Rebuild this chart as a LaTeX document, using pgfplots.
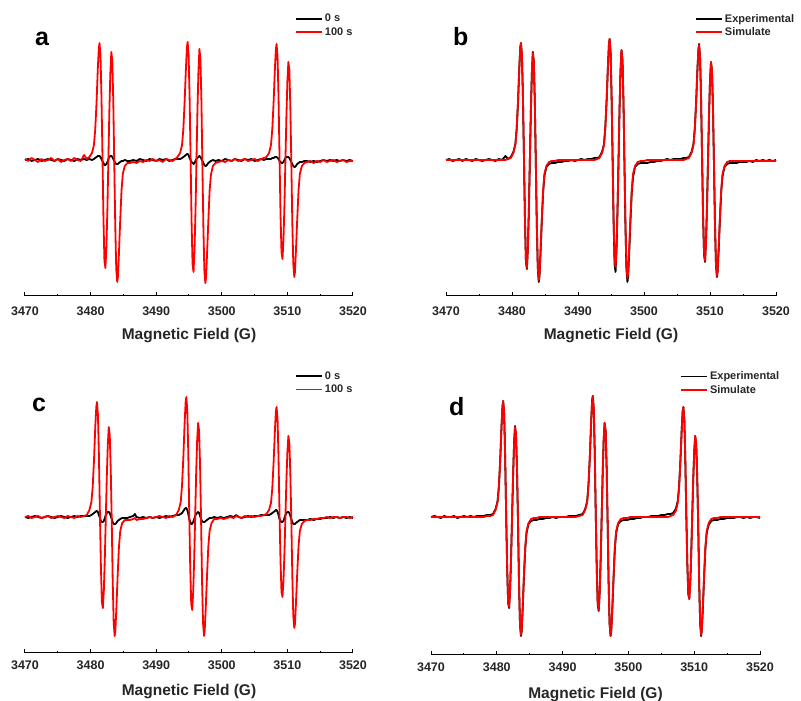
\documentclass[border=0pt]{standalone}
\usepackage{fontspec}
\setmainfont{Liberation Sans}
\usepackage{pgfplots}
\usepackage{pgfplotstable}
\pgfplotsset{compat=1.18}

% panel a: 0 s (k) and 100 s (r)
\pgfplotstableread{
x k r
3470.0 0 1
3470.5 1 -1
3471.0 -1 2
3471.5 0 0
3472.0 1 -2
3472.5 -1 1
3473.0 0 -1
3473.5 1 0
3474.0 0 2
3474.5 -1 -1
3475.0 1 1
3475.5 0 -2
3476.0 -1 0
3476.5 1 1
3477.0 0 -1
3477.5 -1 2
3478.0 1 0
3478.5 0 -1
3479.0 1 5
3479.4 0 1
3479.81 1 3
3480.21 0 7
3480.51 1 15
3480.71 2 31
3480.91 3 58
3481.11 4 93
3481.26 4 112
3481.36 4 117
3481.51 3 104
3481.66 1 62
3481.81 -1 4
3481.96 -3 -59
3482.11 -5 -101
3482.26 -5 -108
3482.41 -4 -87
3482.56 -2 -49
3482.71 1 0
3482.86 3 49
3483.01 4 87
3483.16 4 108
3483.31 3 99
3483.46 1 58
3483.61 -1 -4
3483.76 -3 -66
3483.91 -4 -109
3484.06 -4 -122
3484.16 -4 -117
3484.31 -3 -95
3484.51 -2 -61
3484.71 -1 -31
3484.91 -1 -14
3485.21 0 -6
3485.61 -1 -3
3486.0 -1 -3
3486.5 0 -2
3487.0 -1 -3
3487.5 1 -1
3488.0 0 -2
3488.5 -1 0
3489.0 1 -1
3489.5 0 1
3490.0 -1 -1
3490.5 1 0
3491.0 0 -2
3491.5 1 1
3492.0 -1 0
3492.5 0 -1
3492.9 1 1
3493.24 1 3
3493.64 1 7
3493.94 2 15
3494.14 3 31
3494.34 4 59
3494.54 5 93
3494.69 6 113
3494.79 6 118
3494.94 5 105
3495.09 2 63
3495.24 0 4
3495.39 -2 -61
3495.54 -3 -104
3495.69 -4 -112
3495.84 -3 -90
3495.99 -1 -51
3496.14 1 -1
3496.29 2 50
3496.44 3 89
3496.59 4 111
3496.74 3 101
3496.89 1 60
3497.04 -1 -4
3497.19 -3 -66
3497.34 -5 -110
3497.49 -6 -123
3497.59 -6 -118
3497.74 -5 -96
3497.94 -3 -62
3498.14 -2 -31
3498.34 -1 -15
3498.64 0 -6
3499.04 -1 -3
3499.5 0 -2
3500.0 -1 -1
3500.5 1 -2
3501.0 0 0
3501.5 -1 -1
3502.0 1 1
3502.5 0 -1
3503.0 -1 0
3503.5 1 1
3504.0 0 -1
3504.5 1 0
3505.0 -1 1
3505.5 0 -1
3506.0 1 1
3506.4 0 2
3506.8 1 3
3507.2 1 7
3507.5 1 15
3507.7 2 31
3507.9 2 58
3508.1 3 92
3508.25 3 111
3508.35 3 116
3508.5 2 103
3508.65 1 62
3508.8 -1 3
3508.95 -2 -54
3509.1 -3 -92
3509.25 -3 -99
3509.4 -2 -80
3509.55 0 -45
3509.7 2 0
3509.85 3 44
3510.0 3 79
3510.15 3 98
3510.3 2 90
3510.45 0 53
3510.6 -2 -3
3510.75 -4 -63
3510.9 -6 -104
3511.05 -7 -117
3511.15 -7 -112
3511.3 -6 -91
3511.5 -4 -59
3511.7 -3 -30
3511.9 -2 -14
3512.2 -2 -6
3512.6 -1 -3
3513.0 -1 -2
3513.5 -2 -1
3514.0 -1 -3
3514.5 -2 -1
3515.0 -1 -2
3515.5 0 0
3516.0 -1 -2
3516.5 0 -1
3517.0 -1 0
3517.5 0 -2
3518.0 -1 -1
3518.5 0 0
3519.0 -1 -2
3519.5 0 -1
3520.0 -1 -1
}\taba

% panel b: experimental (e) and simulated (s)
\pgfplotstableread{
x e s
3470.0 0 0
3470.5 1 0
3471.0 -1 0
3471.5 0 0
3472.0 1 0
3472.5 -1 0
3473.0 1 0
3473.5 0 0
3474.0 -1 0
3474.5 1 0
3475.0 0 0
3475.5 -1 0
3476.0 0 0
3476.5 1 0
3477.0 0 0
3477.5 -1 0
3478.0 1 0
3478.5 0 0
3479.0 4 0
3479.4 1 1
3479.81 3 2
3480.21 8 7
3480.51 16 15
3480.71 31 31
3480.91 57 58
3481.11 93 93
3481.26 113 112
3481.36 117 117
3481.51 104 104
3481.66 61 62
3481.81 3 4
3481.96 -59 -59
3482.11 -102 -101
3482.26 -109 -108
3482.41 -87 -87
3482.56 -48 -49
3482.71 1 0
3482.86 49 49
3483.01 87 87
3483.16 108 107
3483.31 98 98
3483.46 57 58
3483.61 -4 -4
3483.76 -66 -65
3483.91 -109 -107
3484.06 -122 -120
3484.16 -117 -115
3484.31 -95 -94
3484.51 -62 -60
3484.71 -33 -31
3484.91 -16 -14
3485.21 -7 -6
3485.61 -4 -2
3486.0 -3 -1
3486.5 -3 -1
3487.0 -2 0
3487.5 -2 0
3488.0 -1 0
3488.5 -1 0
3489.0 0 0
3489.5 -1 0
3490.0 0 0
3490.5 1 0
3491.0 0 0
3491.5 1 0
3492.0 1 0
3492.5 2 0
3492.9 2 1
3493.24 3 2
3493.64 8 7
3493.94 16 15
3494.14 33 32
3494.34 60 60
3494.54 94 95
3494.69 116 116
3494.79 121 121
3494.94 107 108
3495.09 63 64
3495.24 3 4
3495.39 -61 -58
3495.54 -104 -99
3495.69 -112 -107
3495.84 -89 -86
3495.99 -50 -48
3496.14 -1 0
3496.29 50 50
3496.44 89 88
3496.59 110 110
3496.74 100 100
3496.89 58 59
3497.04 -5 -4
3497.19 -67 -64
3497.34 -110 -106
3497.49 -122 -118
3497.59 -117 -113
3497.74 -96 -92
3497.94 -62 -59
3498.14 -33 -30
3498.34 -17 -14
3498.64 -7 -6
3499.04 -4 -2
3499.5 -3 -1
3500.0 -3 -1
3500.5 -3 0
3501.0 -2 0
3501.5 -2 0
3502.0 -1 0
3502.5 -1 0
3503.0 0 0
3503.5 1 0
3504.0 0 0
3504.5 1 0
3505.0 1 0
3505.5 1 0
3506.0 2 0
3506.4 2 1
3506.8 3 2
3507.2 8 7
3507.5 16 15
3507.7 32 31
3507.9 58 57
3508.1 92 91
3508.25 111 110
3508.35 116 115
3508.5 102 102
3508.65 60 61
3508.8 2 3
3508.95 -56 -55
3509.1 -95 -94
3509.25 -102 -101
3509.4 -81 -81
3509.55 -45 -46
3509.7 0 -1
3509.85 44 44
3510.0 79 79
3510.15 98 98
3510.3 89 90
3510.45 52 53
3510.6 -4 -3
3510.75 -63 -62
3510.9 -104 -103
3511.05 -117 -116
3511.15 -112 -111
3511.3 -92 -90
3511.5 -60 -58
3511.7 -32 -30
3511.9 -16 -14
3512.2 -7 -6
3512.6 -4 -2
3513.0 -3 -1
3513.5 -3 -1
3514.0 -3 -1
3514.5 -2 -1
3515.0 -2 -1
3515.5 -2 -1
3516.0 -1 -1
3516.5 -2 -1
3517.0 0 -1
3517.5 -1 -1
3518.0 0 -1
3518.5 -1 -1
3519.0 0 -1
3519.5 -1 -1
3520.0 0 -1
}\tabb

% panel c: 0 s (k) and 100 s (r)
\pgfplotstableread{
x k r
3470.0 0 0
3470.5 -1 1
3471.0 0 -1
3471.5 1 0
3472.0 0 1
3472.5 -1 -1
3473.0 0 0
3473.5 1 1
3474.0 0 -1
3474.5 -1 0
3475.0 0 1
3475.5 1 0
3476.0 0 -1
3476.5 -1 1
3477.0 0 0
3477.5 1 -1
3478.0 0 1
3478.5 1 0
3479.0 1 1
3479.42 1 2
3479.82 1 7
3480.12 2 15
3480.32 3 30
3480.52 4 57
3480.72 5 91
3480.87 6 110
3480.97 6 115
3481.12 5 102
3481.27 2 61
3481.42 -1 3
3481.57 -4 -49
3481.72 -5 -85
3481.87 -5 -91
3482.02 -4 -73
3482.17 -1 -41
3482.32 2 0
3482.47 4 40
3482.62 5 72
3482.77 5 90
3482.92 4 82
3483.07 1 48
3483.22 -2 -3
3483.37 -5 -64
3483.52 -7 -106
3483.67 -7 -119
3483.77 -7 -114
3483.92 -6 -93
3484.12 -4 -59
3484.32 -3 -30
3484.52 -2 -14
3484.82 -1 -6
3485.22 -1 -3
3485.6 -1 -3
3486.0 0 -3
3486.5 1 -2
3486.75 3 -1
3487.0 0 -3
3487.5 -1 -2
3488.0 0 -2
3488.5 -1 -1
3489.0 0 0
3489.5 -1 -1
3490.0 0 0
3490.5 -1 1
3491.0 0 0
3491.5 1 -1
3492.0 0 1
3492.5 1 0
3493.04 2 2
3493.44 2 7
3493.74 3 15
3493.94 4 32
3494.14 6 60
3494.34 8 95
3494.49 9 115
3494.59 9 120
3494.74 7 107
3494.89 3 64
3495.04 -2 3
3495.19 -5 -51
3495.34 -7 -87
3495.49 -7 -93
3495.64 -5 -75
3495.79 -2 -42
3495.94 1 0
3496.09 3 43
3496.24 4 76
3496.39 5 94
3496.54 4 86
3496.69 1 51
3496.84 -2 -3
3496.99 -4 -64
3497.14 -5 -106
3497.29 -5 -119
3497.39 -5 -114
3497.54 -4 -93
3497.74 -3 -60
3497.94 -2 -30
3498.14 -1 -14
3498.44 -1 -6
3498.84 0 -2
3499.3 -1 -2
3499.8 0 -1
3500.3 -1 -2
3500.8 0 -1
3501.3 1 0
3501.8 0 -1
3502.2 2 1
3502.6 0 0
3503.0 -1 -1
3503.5 0 1
3504.0 1 0
3504.5 0 1
3505.0 1 0
3505.5 1 1
3506.0 2 1
3506.4 2 2
3506.8 2 3
3507.2 2 7
3507.5 3 14
3507.7 4 29
3507.9 5 55
3508.1 6 87
3508.25 7 106
3508.35 7 110
3508.5 5 98
3508.65 2 58
3508.8 -2 3
3508.95 -4 -44
3509.1 -5 -75
3509.25 -5 -80
3509.4 -4 -64
3509.55 -1 -36
3509.7 2 0
3509.85 4 37
3510.0 5 65
3510.15 5 81
3510.3 4 74
3510.45 1 43
3510.6 -2 -3
3510.75 -5 -59
3510.9 -7 -99
3511.05 -7 -111
3511.15 -7 -107
3511.3 -6 -87
3511.5 -5 -56
3511.7 -4 -29
3511.9 -3 -14
3512.2 -3 -7
3512.6 -3 -4
3513.0 -3 -3
3513.5 -2 -3
3514.0 -3 -2
3514.5 -2 -2
3515.0 -2 -1
3515.5 -1 -1
3516.0 -1 0
3516.5 0 -1
3517.0 -1 0
3517.5 0 0
3518.0 -1 -1
3518.5 0 0
3519.0 -1 0
3519.5 0 -1
3520.0 -1 0
}\tabc

% panel d: experimental (e) and simulated (s)
\pgfplotstableread{
x e s
3470.0 0 0
3470.5 1 0
3471.0 0 0
3471.5 -1 0
3472.0 1 0
3472.5 0 0
3473.0 0 0
3473.5 1 0
3474.0 -1 0
3474.5 0 0
3475.0 1 0
3475.5 0 0
3476.0 1 0
3476.5 0 0
3477.0 1 0
3477.5 1 0
3478.0 1 0
3478.5 2 1
3479.0 2 1
3479.42 3 2
3479.82 8 7
3480.12 16 15
3480.32 31 30
3480.52 57 57
3480.72 91 91
3480.87 111 111
3480.97 116 116
3481.12 103 103
3481.27 60 61
3481.42 3 3
3481.57 -50 -49
3481.72 -86 -85
3481.87 -91 -90
3482.02 -73 -73
3482.17 -40 -41
3482.32 0 0
3482.47 40 40
3482.62 73 72
3482.77 91 90
3482.92 82 82
3483.07 47 48
3483.22 -4 -3
3483.37 -65 -64
3483.52 -107 -106
3483.67 -119 -118
3483.77 -115 -114
3483.92 -94 -93
3484.12 -61 -59
3484.32 -32 -30
3484.52 -16 -14
3484.82 -7 -6
3485.22 -4 -2
3485.6 -3 -1
3486.0 -3 -1
3486.5 -2 0
3486.75 -2 0
3487.0 -2 0
3487.5 -1 0
3488.0 -1 0
3488.5 0 0
3489.0 -1 0
3489.5 0 0
3490.0 0 0
3490.5 0 0
3491.0 1 0
3491.5 1 0
3492.0 1 0
3492.5 2 1
3493.04 3 2
3493.44 8 7
3493.74 16 15
3493.94 33 32
3494.14 60 60
3494.34 95 95
3494.49 117 116
3494.59 121 121
3494.74 107 108
3494.89 63 64
3495.04 2 3
3495.19 -52 -51
3495.34 -88 -87
3495.49 -94 -93
3495.64 -75 -75
3495.79 -41 -42
3495.94 0 0
3496.09 43 43
3496.24 77 76
3496.39 94 94
3496.54 86 86
3496.69 50 51
3496.84 -4 -3
3496.99 -65 -64
3497.14 -107 -106
3497.29 -119 -119
3497.39 -115 -114
3497.54 -95 -93
3497.74 -62 -60
3497.94 -32 -30
3498.14 -16 -14
3498.44 -7 -6
3498.84 -4 -2
3499.3 -3 -1
3499.8 -3 -1
3500.3 -2 0
3500.8 -2 0
3501.3 -1 0
3501.8 -1 0
3502.2 0 0
3502.6 0 0
3503.0 0 0
3503.5 1 0
3504.0 1 0
3504.5 1 0
3505.0 2 0
3505.5 2 0
3506.0 3 0
3506.4 3 1
3506.8 4 2
3507.2 8 6
3507.5 16 14
3507.7 30 29
3507.9 56 55
3508.1 87 87
3508.25 106 106
3508.35 110 110
3508.5 97 98
3508.65 57 58
3508.8 2 3
3508.95 -46 -45
3509.1 -77 -76
3509.25 -82 -82
3509.4 -66 -66
3509.55 -36 -37
3509.7 1 0
3509.85 37 37
3510.0 65 65
3510.15 81 81
3510.3 73 74
3510.45 42 43
3510.6 -4 -3
3510.75 -64 -63
3510.9 -106 -105
3511.05 -119 -118
3511.15 -114 -113
3511.3 -94 -92
3511.5 -61 -59
3511.7 -32 -30
3511.9 -16 -14
3512.2 -8 -6
3512.6 -4 -2
3513.0 -3 -1
3513.5 -3 -1
3514.0 -2 0
3514.5 -2 0
3515.0 -1 0
3515.5 -1 0
3516.0 -1 0
3516.5 0 0
3517.0 0 0
3517.5 -1 0
3518.0 0 0
3518.5 -1 0
3519.0 0 0
3519.5 0 0
3520.0 -1 0
}\tabd

\pgfplotsset{
  epr/.style={
    scale only axis,
    xmin=3470, xmax=3520, ymax=150,
    axis x line=bottom, axis y line=none,
    axis line style={line width=1pt, black},
    x axis line style={-},
    xtick={3470,3480,...,3520},
    minor xtick={3475,3485,...,3515},
    tick align=inside,
    major tick length=3.5pt, minor tick length=2pt,
    tick style={black, line width=1pt},
    /pgf/number format/1000 sep={},
    /pgf/number format/assume math mode=true,
    xticklabel style={font=\fontsize{12.5}{13}\selectfont\bfseries, text=black!85, anchor=base},
    xlabel={Magnetic Field (G)},
    xlabel style={font=\fontsize{15.5}{16}\selectfont\bfseries, text=black!85, anchor=base, at={(axis description cs:0.5,0)}},
    legend style={draw=none, fill=none, inner sep=0pt, anchor=north west,
      font=\fontsize{11}{12}\selectfont\bfseries, text=black!85, legend cell align=left},
    legend image code/.code={\draw[#1] (0pt,0pt) -- (26pt,0pt);},
    clip=false,
  },
  kline/.style={black, line width=1.8pt, line join=round},
  rline/.style={red, line width=1.8pt, line join=round},
}

\begin{document}
\begin{tikzpicture}[x=1pt,y=1pt]
\path[use as bounding box] (0,0) rectangle (801,701);

% a
\begin{axis}[epr, at={(25pt,405pt)}, anchor=south west, width=328pt, height=286pt, ymin=-136,
  xticklabel style={yshift=-19.5pt}, xlabel style={yshift=-44pt},
  legend style={at={(axis description cs:0.823,1)}, yshift=-2pt}]
\addplot[kline] table[x=x, y=k] {\taba};
\addplot[rline] table[x=x, y=r] {\taba};
\legend{0 s, 100 s}
\end{axis}

% b
\begin{axis}[epr, at={(446pt,405pt)}, anchor=south west, width=330pt, height=286pt, ymin=-136,
  xticklabel style={yshift=-19.5pt}, xlabel style={yshift=-44pt},
  legend style={at={(axis description cs:0.7545,1)}, yshift=-2pt}]
\addplot[kline] table[x=x, y=e] {\tabb};
\addplot[rline] table[x=x, y=s] {\tabb};
\legend{Experimental, Simulate}
\end{axis}

% c
\begin{axis}[epr, at={(25pt,48pt)}, anchor=south west, width=328pt, height=286pt, ymin=-136,
  xticklabel style={yshift=-17pt}, xlabel style={yshift=-42.5pt},
  legend style={at={(axis description cs:0.823,1)}, yshift=-2.5pt}]
\addplot[kline] table[x=x, y=k] {\tabc};
\addplot[rline] table[x=x, y=r] {\tabc};
\legend{0 s, 100 s}
\end{axis}

% d
\begin{axis}[epr, at={(431pt,46pt)}, anchor=south west, width=329pt, height=288pt, ymin=-138,
  xticklabel style={yshift=-17pt}, xlabel style={yshift=-43.5pt},
  legend style={at={(axis description cs:0.757,1)}, yshift=-2.5pt}]
\addplot[kline] table[x=x, y=e] {\tabd};
\addplot[rline] table[x=x, y=s] {\tabd};
\legend{Experimental, Simulate}
\end{axis}

\node[anchor=base west, inner sep=0pt, font=\fontsize{25}{25}\selectfont\bfseries] at (35pt,655pt) {a};
\node[anchor=base west, inner sep=0pt, font=\fontsize{25}{25}\selectfont\bfseries] at (453pt,655pt) {b};
\node[anchor=base west, inner sep=0pt, font=\fontsize{25}{25}\selectfont\bfseries] at (32pt,289pt) {c};
\node[anchor=base west, inner sep=0pt, font=\fontsize{25}{25}\selectfont\bfseries] at (449pt,285.5pt) {d};
\end{tikzpicture}
\end{document}
